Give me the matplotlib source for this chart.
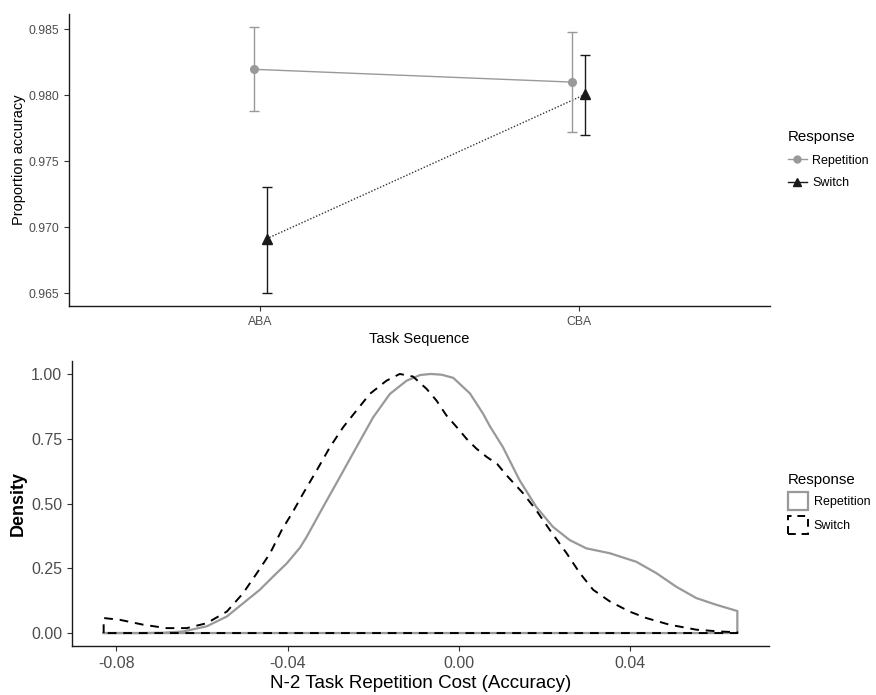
import matplotlib
matplotlib.use("Agg")
import matplotlib.pyplot as plt
from matplotlib.lines import Line2D
from matplotlib.patches import Patch
import numpy as np

plt.rcParams['font.family'] = ['Liberation Sans', 'DejaVu Sans']

# ---------------- data: top panel ----------------
sequences = ["ABA", "CBA"]
rep_mean = [0.98195, 0.98098]
rep_lo = [0.97879, 0.97722]
rep_hi = [0.98513, 0.98475]
sw_mean = [0.96911, 0.98005]
sw_lo = [0.96498, 0.97697]
sw_hi = [0.97303, 0.98301]

# ---------------- data: bottom panel (scaled densities) ----------------
rep_x = [-0.0830, -0.0750, -0.0690, -0.0644, -0.0589, -0.0542, -0.0504, -0.0465, -0.0434,
         -0.0402, -0.0371, -0.0356, -0.0317, -0.0278, -0.0239, -0.0200, -0.0161, -0.0122,
         -0.0090, -0.0065, -0.0040, -0.0013, 0.0026, 0.0057, 0.0072, 0.0103, 0.0142,
         0.0181, 0.0220, 0.0259, 0.0298, 0.0353, 0.0415, 0.0462, 0.0508, 0.0555, 0.0602,
         0.0651]
rep_y = [0.000, 0.000, 0.001, 0.006, 0.026, 0.064, 0.115, 0.167, 0.218,
         0.269, 0.330, 0.370, 0.487, 0.602, 0.718, 0.833, 0.923, 0.974,
         0.996, 1.000, 0.997, 0.985, 0.925, 0.846, 0.800, 0.718, 0.590,
         0.487, 0.410, 0.359, 0.327, 0.308, 0.275, 0.231, 0.179, 0.135, 0.109,
         0.085]
sw_x = [-0.0830, -0.0792, -0.0737, -0.0683, -0.0636, -0.0589, -0.0542, -0.0504, -0.0472,
        -0.0441, -0.0414, -0.0387, -0.0364, -0.0332, -0.0301, -0.0270, -0.0239, -0.0208,
        -0.0169, -0.0138, -0.0107, -0.0075, -0.0052, -0.0029, -0.0005, 0.0018, 0.0041,
        0.0065, 0.0090, 0.0111, 0.0150, 0.0181, 0.0213, 0.0252, 0.0283, 0.0314, 0.0353,
        0.0399, 0.0438, 0.0493, 0.0555, 0.0610, 0.0651]
sw_y = [0.058, 0.051, 0.032, 0.019, 0.019, 0.038, 0.083, 0.154, 0.231,
        0.308, 0.397, 0.470, 0.538, 0.628, 0.718, 0.795, 0.859, 0.923,
        0.974, 1.000, 0.990, 0.942, 0.897, 0.840, 0.795, 0.750, 0.712,
        0.680, 0.652, 0.610, 0.540, 0.474, 0.397, 0.308, 0.231, 0.167, 0.122,
        0.083, 0.058, 0.032, 0.013, 0.006, 0.003]

GRAY = "#999999"
BLACK = "#1a1a1a"
TICKC = "#4D4D4D"

fig = plt.figure(figsize=(8.76, 6.95), dpi=100)

# ---------------- top panel ----------------
ax1 = fig.add_axes([69/876, 1-306/695, (770-69)/876, (306-14)/695])
pos = np.arange(1, len(sequences)+1)
dodge = 0.02
xr = pos - dodge
xs = pos + dodge
ax1.plot(xr, rep_mean, color=GRAY, lw=1.0, zorder=2)
ax1.plot(xs, sw_mean, color="#333333", lw=1.0, linestyle=(0, (1, 1.3)), zorder=2)
ax1.errorbar(xr, rep_mean,
             yerr=[np.array(rep_mean)-np.array(rep_lo), np.array(rep_hi)-np.array(rep_mean)],
             fmt='none', ecolor=GRAY, elinewidth=1.0, capsize=3.5, capthick=1.0, zorder=3)
ax1.errorbar(xs, sw_mean,
             yerr=[np.array(sw_mean)-np.array(sw_lo), np.array(sw_hi)-np.array(sw_mean)],
             fmt='none', ecolor=BLACK, elinewidth=1.0, capsize=3.5, capthick=1.0, zorder=3)
ax1.plot(xr, rep_mean, 'o', color=GRAY, ms=5.5, zorder=4)
ax1.plot(xs, sw_mean, '^', color=BLACK, ms=6.5, zorder=4)
ax1.set_xlim(0.4, 2.6)
ax1.set_ylim(0.96402, 0.98614)
ax1.set_xticks(pos)
ax1.set_xticklabels(sequences)
ax1.set_yticks([0.965, 0.970, 0.975, 0.980, 0.985])
ax1.set_yticklabels(["0.965", "0.970", "0.975", "0.980", "0.985"])
ax1.tick_params(labelsize=8.8, labelcolor=TICKC, color="#333333", length=3.5, width=0.8)
for s in ["top", "right"]:
    ax1.spines[s].set_visible(False)
for s in ["left", "bottom"]:
    ax1.spines[s].set_linewidth(1.0)
    ax1.spines[s].set_color("#1a1a1a")
ax1.set_xlabel("Task Sequence", fontsize=10.5, labelpad=3)
ax1.set_ylabel("Proportion accuracy", fontsize=10.5, labelpad=1.5)

h1 = [Line2D([0], [0], color=GRAY, marker='o', ms=5, lw=1.0),
      Line2D([0], [0], color=BLACK, marker='^', ms=6, lw=1.0)]
leg1 = ax1.legend(h1, ["Repetition", "Switch"], title="Response",
                  loc="upper left", bbox_to_anchor=(788/876, 1-130/695),
                  bbox_transform=fig.transFigure, frameon=False,
                  fontsize=9, title_fontsize=10.8, handlelength=1.5,
                  handletextpad=0.45, labelspacing=0.85, alignment="left",
                  borderaxespad=0, borderpad=0)

# ---------------- bottom panel ----------------
ax2 = fig.add_axes([72/876, 1-646/695, (769-72)/876, (646-361)/695])
rx = np.concatenate([[rep_x[0]], rep_x, [rep_x[-1], rep_x[0]]])
ry = np.concatenate([[0.0], rep_y, [0.0, 0.0]])
ax2.plot(rx, ry, color=GRAY, lw=1.6, zorder=2)
sx = np.concatenate([[sw_x[0]], sw_x, [sw_x[-1], sw_x[0]]])
sy = np.concatenate([[0.0], sw_y, [0.0, 0.0]])
ax2.plot(sx, sy, color="black", lw=1.4, linestyle=(0, (4.5, 3.5)), zorder=3)
ax2.set_xlim(-0.0904, 0.0725)
ax2.set_ylim(-0.05, 1.05)
ax2.set_xticks([-0.08, -0.04, 0.00, 0.04])
ax2.set_xticklabels(["-0.08", "-0.04", "0.00", "0.04"])
ax2.set_yticks([0.0, 0.25, 0.5, 0.75, 1.0])
ax2.set_yticklabels(["0.00", "0.25", "0.50", "0.75", "1.00"])
ax2.tick_params(labelsize=11.5, labelcolor=TICKC, color="#333333", length=3.5, width=0.8)
for s in ["top", "right"]:
    ax2.spines[s].set_visible(False)
for s in ["left", "bottom"]:
    ax2.spines[s].set_linewidth(1.0)
    ax2.spines[s].set_color("#1a1a1a")
ax2.set_xlabel("N-2 Task Repetition Cost (Accuracy)", fontsize=13.5, labelpad=3)
ax2.set_ylabel("Density", fontsize=13, fontweight="bold", labelpad=3)

h2 = [Patch(facecolor="white", edgecolor=GRAY, lw=1.6),
      Patch(facecolor="white", edgecolor="black", lw=1.4, linestyle=(0, (4, 3)))]
leg2 = ax2.legend(h2, ["Repetition", "Switch"], title="Response",
                  loc="upper left", bbox_to_anchor=(788/876, 1-473/695),
                  bbox_transform=fig.transFigure, frameon=False,
                  fontsize=9, title_fontsize=10.8, handlelength=1.6, handleheight=1.85,
                  handletextpad=0.45, labelspacing=0.42, alignment="left",
                  borderaxespad=0, borderpad=0)

fig.savefig("out.png", dpi=100)
